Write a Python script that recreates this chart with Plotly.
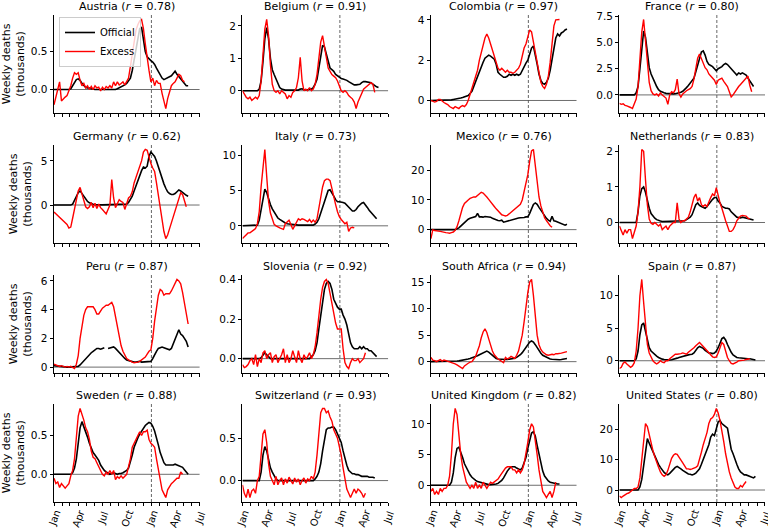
import datetime as dt
import plotly.graph_objects as go

# ---------------- data (weekly, starting 2020-01-01) ----------------
START = dt.date(2020, 1, 1)

countries = ["Austria", "Belgium", "Colombia", "France",
             "Germany", "Italy", "Mexico", "Netherlands",
             "Peru", "Slovenia", "South Africa", "Spain",
             "Sweden", "Switzerland", "United Kingdom", "United States"]
r_values = ["0.78", "0.91", "0.97", "0.80",
            "0.62", "0.73", "0.76", "0.83",
            "0.87", "0.92", "0.94", "0.87",
            "0.88", "0.93", "0.82", "0.80"]
month_labels = ["Jan", "", "", "Apr", "", "", "Jul", "", "", "Oct", "", "",
                "Jan", "", "", "Apr", "", "", "Jul"]
ytick_step = [0.5, 1, 2, 2.5, 5, 5, 10, 1, 2, 0.2, 5, 5, 0.5, 0.5, 5, 10]
ytick_fmt = [".1f", ".0f", ".0f", ".1f", ".0f", ".0f", ".0f", ".0f",
             ".0f", ".1f", ".0f", ".0f", ".1f", ".1f", ".0f", ".0f"]

austria_official = [0]*9 + [0.01, 0.05, 0.1, 0.13, 0.14, 0.12, 0.08, 0.05, 0.03, 0.02, 0.02, 0.01] + [0]*13 + [
    0.01, 0.02, 0.03, 0.04, 0.06, 0.08, 0.12, 0.15, 0.25, 0.4, 0.55, 0.7, 0.8, 0.82, 0.65, 0.5, 0.43, 0.4,
    0.38, 0.36, 0.33, 0.28, 0.23, 0.18, 0.15, 0.13, 0.14, 0.15, 0.16, 0.18, 0.21, 0.24, 0.2, 0.17, 0.14,
    0.1, 0.07, 0.05, 0.05]
austria_excess = [-0.2, -0.1, 0.0, 0.1, -0.15, -0.12, -0.1, -0.08, -0.02, 0.05, 0.15, 0.22, 0.2, 0.22, 0.12,
    0.05, 0.08, 0.02, 0.05, 0.0, 0.04, 0.0, 0.05, 0.02, 0.03, -0.02, 0.03, 0.0, 0.04, 0.02, 0.05, 0.02, 0.1,
    0.05, 0.1, 0.06, 0.08, 0.1, 0.06, 0.1, 0.15, 0.3, 0.45, 0.6, 0.78, 0.85, 0.9, 0.92, 0.8, 0.6, 0.4, 0.25,
    0.1, 0.15, 0.05, 0.12, 0.08, 0.08, -0.05, -0.15, -0.25, -0.12, -0.02, 0.05, 0.08, 0.1, 0.15, 0.2, 0.18,
    0.12, 0.1]

belgium_official = [0]*9 + [0.05, 0.3, 0.9, 1.6, 1.95, 1.6, 1.0, 0.65, 0.5, 0.35, 0.2, 0.1, 0.05, 0.03] + [0.02]*8 + [
    0.05, 0.06, 0.03, 0.02, 0.03, 0.05, 0.05, 0.1, 0.2, 0.35, 0.7, 1.1, 1.4, 1.35, 1.1, 0.85, 0.7, 0.65, 0.6,
    0.5, 0.45, 0.4, 0.38, 0.36, 0.35, 0.32, 0.28, 0.25, 0.22, 0.18, 0.18, 0.18, 0.2, 0.25, 0.28, 0.28, 0.27,
    0.26, 0.25, 0.2, 0.15, 0.12, 0.1]
belgium_excess = [0.0, -0.1, -0.2, -0.25, -0.2, -0.3, -0.25, -0.2, -0.25, -0.15, 0.3, 1.2, 1.9, 2.2, 1.7, 0.8,
    0.2, 0.0, -0.05, 0.0, -0.1, 0.0, -0.05, -0.1, -0.25, -0.15, -0.2, -0.05, 0.0, 0.1, 0.4, 1.03, 0.3, 0.0,
    0.05, 0.0, 0.1, 0.0, 0.05, 0.2, 0.5, 1.0, 1.5, 1.7, 1.4, 1.0, 0.7, 0.6, 0.5, 0.45, 0.4, 0.3, 0.15, 0.0,
    -0.05, 0.0, -0.05, -0.15, -0.2, -0.25, -0.35, -0.55, -0.35, -0.2, -0.05, 0.05, 0.1, 0.15, 0.2, 0.25, 0.2,
    -0.05]

colombia_official = [0]*9 + [0.01, 0.02, 0.03, 0.05, 0.06, 0.08, 0.1, 0.12, 0.15, 0.18, 0.2, 0.25, 0.35, 0.45,
    0.7, 0.95, 1.2, 1.5, 1.7, 1.9, 2.1, 2.2, 2.25, 2.2, 2.1, 2.05, 1.8, 1.4, 1.3, 1.2, 1.15, 1.15, 1.2, 1.3,
    1.25, 1.3, 1.25, 1.3, 1.25, 1.3, 1.5, 1.7, 1.85, 2.0, 2.3, 2.6, 2.7, 2.3, 1.8, 1.3, 1.0, 0.85, 0.8, 0.9,
    1.1, 1.5, 2.0, 2.6, 3.1, 3.3, 3.2, 3.35, 3.4, 3.5, 3.55]
colombia_excess = [0.0, -0.05, -0.08, -0.05, 0.05, 0.05, -0.05, -0.1, -0.15, -0.2, -0.3, -0.35, -0.4, -0.3,
    -0.35, -0.4, -0.3, -0.25, -0.3, -0.2, 0.0, 0.3, 0.6, 1.0, 1.3, 1.5, 2.0, 2.4, 2.8, 3.1, 3.3, 3.1, 2.8, 2.5,
    2.1, 1.8, 1.6, 1.5, 1.6, 1.5, 1.4, 1.5, 1.4, 1.4, 1.35, 1.4, 1.5, 1.6, 1.8, 2.2, 2.6, 2.8, 3.1, 3.5, 3.4,
    2.9, 2.3, 1.7, 1.2, 0.9, 0.7, 0.6, 0.8, 1.2, 1.9, 2.8, 3.7, 4.0, 4.0, 4.02]

france_official = [0]*9 + [0.2, 0.8, 2.5, 4.5, 6.1, 5.5, 3.8, 2.6, 2.0, 1.5, 1.2, 0.8, 0.5, 0.35, 0.25, 0.2,
    0.15, 0.12, 0.1, 0.1, 0.1, 0.12, 0.15, 0.2, 0.25, 0.35, 0.5, 0.7, 0.9, 1.1, 1.3, 1.6, 2.2, 2.9, 3.6, 4.1,
    4.2, 3.8, 3.2, 2.9, 2.8, 2.7, 2.5, 2.3, 2.5, 2.6, 2.7, 2.9, 3.0, 2.9, 2.7, 2.5, 2.2, 2.0, 1.9, 2.1, 2.0,
    2.1, 2.0, 1.9, 1.6, 1.3, 1.0, 0.8]
france_excess = [-0.8, -0.9, -0.85, -1.0, -1.05, -1.1, -1.2, -1.3, -0.9, -0.4, 0.8, 3.5, 6.0, 7.2, 5.0, 2.8,
    1.2, 0.4, 0.1, 0.0, 0.1, -0.1, 0.2, 0.0, -0.2, -0.3, -0.9, 0.0, 0.3, 0.2, 0.5, 1.5, 0.1, -0.2, 0.1, 0.3,
    0.4, 0.5, 0.6, 0.8, 1.5, 2.5, 3.5, 3.9, 3.4, 3.0, 2.6, 2.4, 2.0, 1.8, 1.6, 1.4, 1.0, 1.4, 1.5, 1.6, 1.3,
    1.1, 0.8, 0.3, -0.2, 0.0, 0.3, 0.6, 0.8, 1.0, 1.2, 1.5, 1.6, 1.8, 0.9, 0.3]

germany_official = [0]*10 + [0.1, 0.5, 1.0, 1.4, 1.6, 1.3, 1.0, 0.7, 0.4, 0.25, 0.15, 0.08, 0.05] + [0.02]*16 + [
    0.1, 0.3, 0.6, 1.0, 1.6, 2.2, 2.8, 3.3, 3.9, 4.3, 4.2, 4.4, 5.5, 6.0, 5.8, 5.5, 5.0, 4.3, 3.6, 3.0, 2.4,
    1.9, 1.5, 1.3, 1.2, 1.2, 1.3, 1.5, 1.7, 1.6, 1.4, 1.3, 1.1, 1.0]
germany_excess = [-0.8, -1.0, -1.1, -1.4, -1.5, -1.7, -1.9, -2.2, -2.6, -2.5, -1.5, -0.5, 0.8, 1.6, 2.0, 1.2,
    0.3, -0.2, -0.4, -0.2, 0.3, -0.3, 0.2, -0.4, 0.1, -0.3, -0.5, -0.8, -1.0, -0.5, 0.0, 2.9, 0.8, -0.3, 0.2,
    0.6, 0.4, 0.3, -0.5, 0.3, 0.8, 1.0, 1.5, 2.5, 3.2, 3.8, 4.5, 5.0, 6.0, 6.3, 6.2, 5.3, 4.7, 4.2, 3.8, 2.5,
    1.0, -0.5, -1.8, -3.0, -3.8, -3.4, -2.7, -2.0, -1.3, -0.6, 0.2, 0.8, 1.4, 1.2, 0.5, -0.2]

italy_official = [0]*8 + [0.1, 0.8, 2.3, 4.2, 5.2, 4.7, 3.8, 3.0, 2.4, 1.9, 1.5, 1.1, 0.9, 0.7, 0.5, 0.4, 0.3,
    0.25, 0.2, 0.15] + [0.1]*11 + [0.25, 0.5, 1.0, 1.8, 2.7, 3.6, 4.4, 5.0, 5.1, 4.7, 4.2, 3.7, 3.4, 3.4, 3.4,
    3.3, 3.2, 2.9, 2.6, 2.3, 2.1, 2.1, 2.3, 2.7, 3.0, 3.2, 3.3, 3.0, 2.6, 2.2, 1.9, 1.6, 1.3, 1.0]
italy_excess = [-1.8, -1.5, -1.2, -1.0, -1.0, -0.8, -0.6, -0.4, 0.3, 2.0, 5.5, 8.0, 10.8, 7.0, 3.5, 1.8, 0.8,
    0.2, 0.0, -0.2, -0.3, -0.4, -0.5, 0.3, 0.5, 0.8, 0.2, -0.5, 0.0, 0.5, 1.0, 0.8, 1.0, 0.9, 0.8, 0.6, 0.9,
    0.5, 0.8, 0.5, 1.0, 2.5, 4.2, 5.5, 6.4, 6.6, 6.6, 6.4, 5.3, 4.0, 3.0, 2.0, 1.3, 0.9, 0.6, 0.3, 0.5, -0.8,
    -0.3, -0.2, -0.3]

mexico_official = [0]*14 + [0.3, 0.6, 1.2, 1.8, 2.4, 3.0, 3.5, 3.8, 4.0, 4.2, 4.4, 5.5, 4.3, 4.3, 4.2, 4.4,
    4.3, 4.4, 4.2, 3.8, 3.5, 3.3, 3.1, 3.0, 3.2, 2.5, 2.7, 2.8, 3.0, 3.1, 3.4, 3.6, 3.8, 3.9, 4.0, 4.0, 4.1,
    4.3, 4.3, 5.5, 7.0, 8.5, 9.0, 8.5, 7.5, 6.5, 5.5, 4.5, 3.8, 3.2, 2.8, 4.5, 3.0, 2.8, 2.5, 2.2, 2.0, 1.7,
    1.5, 1.8]
mexico_excess = [-3.0, 0.0, -0.3, -0.5, -0.5, -0.6, -0.8, -1.0, -1.0, -1.1, -1.2, -1.0, -0.8, -0.2, 1.0, 3.0,
    5.5, 7.5, 8.8, 9.5, 10.0, 10.5, 10.8, 11.0, 11.0, 11.5, 12.2, 12.6, 12.3, 11.8, 11.0, 10.2, 9.5, 8.6, 7.8,
    7.0, 6.3, 5.6, 5.0, 4.8, 4.6, 4.8, 5.3, 6.0, 6.5, 7.0, 7.3, 7.8, 8.5, 10.0, 12.5, 15.5, 18.5, 23.0, 26.5,
    27.0, 21.0, 15.0, 11.0, 8.0, 6.0, 4.0, 3.0, 2.0, 1.3, 0.8]

netherlands_official = [0]*10 + [0.3, 0.75, 0.95, 1.0, 0.85, 0.6, 0.4, 0.25, 0.18, 0.12, 0.08, 0.05, 0.04] + \
    [0.03]*12 + [0.05, 0.08, 0.12, 0.15, 0.22, 0.35, 0.5, 0.55, 0.48, 0.45, 0.42, 0.4, 0.45, 0.52, 0.6, 0.65,
    0.7, 0.7, 0.6, 0.55, 0.45, 0.42, 0.4, 0.4, 0.38, 0.3, 0.25, 0.18, 0.15, 0.14, 0.13, 0.15, 0.14, 0.12, 0.1,
    0.09, 0.08, 0.07]
netherlands_excess = [-0.1, -0.25, -0.35, -0.2, -0.3, -0.2, -0.2, -0.45, -0.3, -0.1, 0.3, 1.0, 2.05, 2.0, 1.2,
    0.5, 0.1, -0.02, -0.05, 0.0, -0.05, -0.1, -0.05, -0.2, -0.15, -0.1, -0.2, -0.1, -0.05, 0.0, 0.0, 0.55,
    0.1, 0.0, 0.05, 0.05, 0.1, 0.15, 0.3, 0.5, 0.7, 0.8, 0.6, 0.7, 0.5, 0.45, 0.5, 0.45, 0.6, 0.7, 0.8, 0.75,
    0.98, 0.75, 0.55, 0.4, 0.2, 0.05, -0.1, -0.25, -0.25, -0.2, -0.1, 0.05, 0.12, 0.18, 0.2, 0.2, 0.18, 0.12,
    0.1]

peru_official = [0.1, 0.08, 0.05, 0.03, 0.02, 0, 0, 0, 0, 0, 0, 0, 0, 0.05, 0.15, 0.3, 0.45, 0.6, 0.75, 0.9,
    1.0, 1.1, 1.2, 1.3, 1.3, 1.25, 1.3, 1.35, None, 1.3, 1.35, 1.4, 1.4, 1.3, 1.15, 1.0, 0.85, 0.7, 0.6, 0.5,
    0.45, 0.4, 0.35, 0.35, 0.35, 0.4, 0.4, 0.35, 0.35, 0.4, 0.4, 0.35, 0.4, 0.6, 0.9, 1.1, 1.3, 1.35, 1.4,
    1.35, 1.3, 1.2, 1.2, 1.3, 1.6, 1.9, 2.2, 2.6, 2.3, 2.2, 2.0, 1.8, 1.4]
peru_excess = [0.2, 0.15, 0.1, 0.05, 0.1, 0.05, 0.0, 0.05, 0.0, 0.05, 0.0, -0.1, 0.2, 0.8, 2.0, 3.0, 3.6, 4.0,
    4.2, 4.2, 4.2, 4.2, 4.0, 3.7, 3.7, 3.9, 4.1, 4.2, 4.3, 4.3, 4.4, 4.5, 4.2, 3.5, 2.7, 2.0, 1.5, 1.1, 0.8,
    0.6, 0.5, 0.4, 0.35, 0.3, 0.3, 0.35, 0.4, 0.5, 0.55, 0.7, 0.9, 1.1, 1.2, 2.0, 3.2, 4.3, 5.0, 5.4, 5.3, 5.0,
    5.1, 5.1, 5.1, 5.3, 5.6, 5.9, 6.1, 6.0, 5.8, 5.2, 4.5, 3.7, 3.0]

slovenia_official = [0]*10 + [0.005, 0.02, 0.03, 0.02, 0.01] + [0]*22 + [0.01, 0.02, 0.04, 0.08, 0.15, 0.22,
    0.3, 0.35, 0.38, 0.39, 0.38, 0.35, 0.3, 0.28, 0.26, 0.25, 0.25, 0.22, 0.2, 0.17, 0.12, 0.08, 0.06, 0.05,
    0.05, 0.05, 0.06, 0.05, 0.06, 0.05, 0.05, 0.04, 0.04, 0.03, 0.02, 0.01]
slovenia_excess = [-0.03, -0.045, -0.04, -0.03, -0.01, 0.0, -0.03, 0.02, -0.04, 0.0, -0.02, 0.03, 0.04, 0.0,
    0.02, 0.03, -0.02, 0.01, 0.02, -0.02, 0.0, 0.02, 0.05, -0.02, 0.02, -0.02, 0.0, 0.04, 0.01, -0.02, 0.04,
    0.0, -0.02, 0.02, 0.0, 0.01, 0.03, 0.0, 0.02, 0.06, 0.13, 0.22, 0.3, 0.36, 0.39, 0.4, 0.38, 0.33, 0.28,
    0.22, 0.18, 0.15, 0.15, 0.15, 0.05, -0.02, -0.04, -0.05, -0.02, 0.0, -0.01, -0.01, 0.0, -0.02, -0.01, 0.0,
    0.03]

south_africa_official = [0]*11 + [0.05, 0.08, 0.1, 0.12, 0.15, 0.2, 0.25, 0.3, 0.4, 0.5, 0.6, 0.7, 0.8, 0.9,
    1.1, 1.3, 1.5, 1.6, 1.8, 2.0, 1.8, 1.5, 1.1, 0.8, 0.6, 0.5, 0.45, 0.4, 0.4, 0.4, 0.4, 0.45, 0.5, 0.55,
    0.65, 0.8, 1.0, 1.3, 1.7, 2.2, 2.7, 3.2, 3.7, 3.9, 3.7, 3.2, 2.6, 2.0, 1.6, 1.2, 1.0, 0.8, 0.6, 0.5, 0.45,
    0.4, 0.4, 0.35, 0.35, 0.4, 0.5, 0.55, 0.6]
south_africa_excess = [0.8, 0.3, 0.2, 0.0, 0.2, 0.4, 0.1, 0.3, 0.2, 0.1, 0.0, -0.1, -0.2, -0.4, -0.6, -0.8,
    -1.0, -1.3, -0.8, -0.5, -0.3, -0.1, 0.0, 0.5, 1.0, 2.0, 3.0, 4.5, 5.6, 6.2, 5.5, 4.3, 3.0, 2.0, 1.3, 0.8,
    0.5, 0.3, 0.0, -0.2, 0.8, 0.5, 0.7, 1.0, 0.8, 0.6, 1.2, 2.0, 3.5, 5.0, 7.5, 10.5, 13.0, 15.0, 15.5, 12.5,
    8.0, 5.0, 3.2, 2.3, 1.8, 1.5, 1.3, 1.2, 1.3, 1.4, 1.3, 1.5, 1.5, 1.5, 1.6, 1.7, 1.8, 1.9]

spain_official = [0]*9 + [0.3, 1.5, 4.0, 5.5, 5.8, 4.5, 3.0, 2.0, 1.5, 1.2, 0.9, 0.7, 0.5, 0.35, 0.25, 0.2,
    0.15, 0.1, 0.12, 0.15, 0.2, 0.3, 0.4, 0.5, 0.6, 0.7, 0.8, 0.85, 0.9, 0.95, 1.0, 1.2, 1.6, 2.0, 2.2, 2.1,
    1.9, 1.6, 1.4, 1.2, 1.2, 1.1, 1.2, 1.5, 2.0, 2.7, 3.4, 3.6, 3.2, 2.5, 1.8, 1.3, 0.9, 0.7, 0.5, 0.45, 0.4,
    0.4, 0.4, 0.35, 0.3, 0.3, 0.2, 0.15, 0.1]
spain_excess = [-1.2, -1.0, -0.4, -0.2, -0.5, -0.8, -1.0, -0.8, -0.3, 1.5, 5.0, 10.0, 12.5, 9.0, 5.0, 2.5,
    1.2, 0.5, 0.0, -0.3, -0.5, -0.3, 0.0, -0.2, -0.3, 0.0, 0.0, 0.3, 0.5, 0.8, 1.0, 1.0, 1.0, 1.1, 1.2, 1.1,
    1.0, 1.3, 1.5, 1.8, 2.0, 2.3, 2.6, 2.8, 2.5, 2.2, 1.8, 1.5, 1.2, 0.9, 0.6, 0.5, 0.6, 1.2, 2.0, 2.8, 2.5,
    1.5, 0.5, 0.0, -0.4, -0.5, -0.4, -0.2, 0.0, 0.0, 0.1, 0.1, 0.2, 0.3, 0.3]

sweden_official = [0]*10 + [0.02, 0.08, 0.2, 0.4, 0.6, 0.68, 0.62, 0.55, 0.48, 0.4, 0.33, 0.28, 0.25, 0.22,
    0.18, 0.12, 0.08, 0.05, 0.03, 0.02, 0.0, 0.01, 0.02, 0.01, 0.0, 0.01, 0.01, 0.02, 0.03, 0.05, 0.08, 0.15,
    0.25, 0.35, 0.42, 0.47, 0.52, 0.56, 0.6, 0.63, 0.65, 0.67, 0.66, 0.62, 0.56, 0.48, 0.38, 0.28, 0.2, 0.15,
    0.12, 0.12, 0.12, 0.12, 0.12, 0.13, 0.12, 0.11, 0.1, 0.09, 0.06, 0.03, 0.0]
sweden_excess = [-0.05, -0.12, -0.1, -0.17, -0.12, -0.15, -0.18, -0.15, -0.12, -0.02, 0.05, 0.2, 0.5, 0.75,
    0.85, 0.78, 0.7, 0.6, 0.55, 0.45, 0.3, 0.22, 0.2, 0.15, 0.1, 0.05, 0.0, -0.02, 0.03, 0.0, 0.05, 0.0, 0.05,
    -0.07, -0.03, -0.05, -0.02, -0.05, -0.02, 0.0, 0.1, 0.2, 0.35, 0.4, 0.45, 0.5, 0.55, 0.5, 0.55, 0.55,
    0.57, 0.45, 0.4, 0.38, 0.35, 0.2, 0.05, -0.1, -0.2, -0.25, -0.3, -0.2, -0.15, -0.12, -0.1, -0.08, -0.05,
    -0.05, 0.03, 0.0]

switzerland_official = [0]*10 + [0.1, 0.3, 0.4, 0.35, 0.25, 0.15, 0.1, 0.05, 0.02] + [0]*20 + [0.02, 0.05,
    0.1, 0.2, 0.35, 0.5, 0.6, 0.62, 0.62, 0.63, 0.63, 0.6, 0.55, 0.5, 0.45, 0.35, 0.25, 0.18, 0.12, 0.1, 0.08,
    0.08, 0.07, 0.07, 0.06, 0.05, 0.05, 0.05, 0.05, 0.04, 0.04, 0.04, 0.03]
switzerland_excess = [-0.05, -0.15, -0.2, -0.1, -0.2, -0.12, -0.1, -0.15, 0.0, 0.05, 0.3, 0.55, 0.6, 0.45, 0.2,
    0.05, 0.0, -0.05, 0.05, -0.05, 0.0, 0.03, -0.05, 0.02, -0.03, 0.04, 0.0, -0.04, 0.03, -0.02, 0.02, -0.05,
    0.0, 0.03, -0.03, 0.02, 0.0, 0.05, 0.02, 0.1, 0.3, 0.6, 0.8, 0.85, 0.85, 0.8, 0.82, 0.75, 0.7, 0.6, 0.55,
    0.5, 0.4, 0.3, 0.15, 0.0, -0.1, -0.15, -0.2, -0.15, -0.1, -0.15, -0.1, -0.12, -0.15, -0.2, -0.15]

uk_official = [0]*11 + [0.5, 2.0, 4.5, 6.0, 6.2, 5.5, 4.5, 3.5, 2.8, 2.2, 1.7, 1.3, 1.0, 0.8, 0.6, 0.5, 0.4,
    0.3, 0.2, 0.15, 0.1, 0.1, 0.1, 0.15, 0.2, 0.3, 0.5, 0.8, 1.2, 1.8, 2.3, 2.7, 3.0, 3.0, 3.0, 2.8, 2.6, 2.5,
    2.8, 3.5, 4.5, 6.0, 7.5, 8.5, 8.7, 8.0, 6.5, 5.0, 3.5, 2.3, 1.5, 1.0, 0.7, 0.5, 0.4, 0.3, 0.3, 0.2, 0.2]
uk_excess = [-1.0, -0.5, -1.5, -1.0, -1.5, -0.5, -1.0, -0.5, -0.5, 0.0, 1.5, 5.0, 10.0, 12.5, 11.5, 8.0, 5.0,
    3.0, 1.5, 0.5, 0.0, -0.5, 0.0, -0.5, 0.5, -0.5, 0.0, -0.5, 0.5, 0.0, -0.5, 0.0, 0.5, 0.3, 0.5, 0.8, 1.0,
    1.5, 2.0, 2.5, 2.8, 3.0, 3.0, 3.0, 2.5, 2.5, 2.0, 2.5, 2.0, 2.5, 3.5, 5.0, 7.0, 9.0, 10.0, 9.5, 7.5, 5.0,
    2.5, 0.5, -1.0, -1.5, -2.0, -1.5, -1.0, -2.0, -1.0, 0.5]

us_official = [0]*11 + [1.0, 3.5, 8.0, 13.0, 17.0, 15.5, 14.0, 12.5, 11.0, 9.5, 8.5, 7.5, 6.5, 5.8, 5.3, 5.0,
    5.5, 6.3, 7.0, 7.5, 7.8, 7.5, 7.0, 6.5, 6.0, 5.6, 5.3, 5.2, 5.0, 5.2, 5.6, 6.3, 7.0, 8.5, 10.0, 11.5, 13.0,
    15.0, 17.5, 18.5, 18.0, 20.0, 22.5, 23.0, 22.0, 21.5, 21.0, 20.5, 17.0, 13.5, 12.0, 10.0, 8.5, 7.0, 6.0,
    5.5, 5.0, 5.0, 4.8, 4.5, 4.2, 4.0, 4.5]
us_excess = [-2.0, -2.5, -2.0, -1.5, -1.2, -1.0, -0.5, 0.0, 0.5, 0.5, 1.0, 4.0, 10.0, 18.0, 22.0, 21.0, 18.0,
    15.0, 13.0, 11.0, 9.0, 7.5, 6.0, 5.0, 4.5, 5.0, 6.5, 8.5, 10.5, 11.5, 12.0, 11.8, 11.0, 10.0, 9.0, 8.0,
    7.0, 7.0, 6.8, 7.0, 7.2, 7.5, 8.0, 10.0, 12.5, 15.0, 17.0, 19.0, 22.0, 23.5, 24.0, 25.0, 27.0, 25.5, 23.0,
    20.0, 16.0, 12.0, 8.5, 6.0, 4.0, 2.5, 1.0, 0.5, 0.5, 1.5, 1.0, 2.0, 2.8]

official_series = [austria_official, belgium_official, colombia_official, france_official,
                   germany_official, italy_official, mexico_official, netherlands_official,
                   peru_official, slovenia_official, south_africa_official, spain_official,
                   sweden_official, switzerland_official, uk_official, us_official]
excess_series = [austria_excess, belgium_excess, colombia_excess, france_excess,
                 germany_excess, italy_excess, mexico_excess, netherlands_excess,
                 peru_excess, slovenia_excess, south_africa_excess, spain_excess,
                 sweden_excess, switzerland_excess, uk_excess, us_excess]

# ---------------- layout ----------------
W, H = 768, 531
ML, MR, MT, MB = 52, 3, 15, 29
PW, PH = W - ML - MR, H - MT - MB
col_left = [52, 241, 430, 619]
col_w = 146
row_top = [15, 145, 275, 404]
row_h = 98
XLABEL_CENTER_PX = 518   # vertical centre of rotated month labels

FONT = "DejaVu Sans, Arial, sans-serif"


def week_dates(n):
    return [START + dt.timedelta(weeks=i) for i in range(n)]


month_ticks = []
for k in range(19):
    y = 2020 + k // 12
    m = k % 12 + 1
    month_ticks.append(dt.date(y, m, 1))

fig = go.Figure()
annotations = []
shapes = []

for idx, name in enumerate(countries):
    r, c = divmod(idx, 4)
    n = idx + 1
    xa = "x" if n == 1 else f"x{n}"
    ya = "y" if n == 1 else f"y{n}"
    xkey = "xaxis" if n == 1 else f"xaxis{n}"
    ykey = "yaxis" if n == 1 else f"yaxis{n}"

    off = official_series[idx]
    exc = excess_series[idx]
    fig.add_trace(go.Scatter(x=week_dates(len(off)), y=off, mode="lines",
                             line=dict(color="black", width=1.6), name="Official",
                             showlegend=(idx == 0), xaxis=xa, yaxis=ya, connectgaps=False))
    fig.add_trace(go.Scatter(x=week_dates(len(exc)), y=exc, mode="lines",
                             line=dict(color="#ff0000", width=1.4), name="Excess",
                             showlegend=(idx == 0), xaxis=xa, yaxis=ya))

    vals = [v for v in off + exc if v is not None]
    lo, hi = min(vals), max(vals)
    pad = 0.05 * (hi - lo)

    x0 = (col_left[c] - ML) / PW
    x1 = (col_left[c] + col_w - ML) / PW
    ytop = (H - MB - row_top[r]) / PH
    ybot = (H - MB - row_top[r] - row_h) / PH

    fig.layout[xkey] = dict(
        domain=[x0, x1], anchor=ya, type="date",
        range=[dt.date(2020, 1, 1), dt.date(2021, 7, 1)],
        tickmode="array", tickvals=month_ticks, ticktext=[""] * len(month_ticks),
        ticks="outside", ticklen=3.5, tickwidth=0.8, tickcolor="black",
        showline=True, linecolor="black", linewidth=0.8, showgrid=False, zeroline=False)
    fig.layout[ykey] = dict(
        domain=[ybot, ytop], anchor=xa, range=[lo - pad, hi + pad],
        dtick=ytick_step[idx], tick0=0, tickformat=ytick_fmt[idx],
        ticks="outside", ticklen=3.5, tickwidth=0.8, tickcolor="black",
        showline=True, linecolor="black", linewidth=0.8, showgrid=False, zeroline=False,
        tickfont=dict(size=10.5, color="black", family=FONT))
    if c == 0:
        fig.layout[ykey]["title"] = dict(text="Weekly deaths<br>(thousands)",
                                         font=dict(size=11, color="black", family=FONT),
                                         standoff=6)

    # rotated month labels under the bottom row
    if r == 3:
        for tv, tl in zip(month_ticks, month_labels):
            if tl:
                annotations.append(dict(text=tl, x=tv, xref=xa, yref="paper",
                                        y=(H - MB - XLABEL_CENTER_PX) / PH,
                                        xanchor="center", yanchor="middle", textangle=-70,
                                        showarrow=False,
                                        font=dict(size=10, color="black", family=FONT)))

    shapes.append(dict(type="line", xref=f"{xa} domain", yref=ya, x0=0, x1=1, y0=0, y1=0,
                       line=dict(color="#6e6e6e", width=1), layer="below"))
    shapes.append(dict(type="line", xref=xa, yref=f"{ya} domain", x0=dt.date(2021, 1, 1),
                       x1=dt.date(2021, 1, 1), y0=0, y1=1,
                       line=dict(color="#555555", width=0.9, dash="3px,2px"), layer="below"))
    annotations.append(dict(text=f"{name} (<i>r</i> = {r_values[idx]})", xref="paper", yref="paper",
                            x=(x0 + x1) / 2, y=ytop + 9 / PH, xanchor="center", yanchor="middle",
                            showarrow=False, font=dict(size=11, color="black", family=FONT)))

fig.update_layout(
    width=W, height=H, margin=dict(l=ML, r=MR, t=MT, b=MB),
    paper_bgcolor="white", plot_bgcolor="white",
    font=dict(family=FONT, color="black"),
    shapes=shapes, annotations=annotations,
    legend=dict(x=(57 - ML) / PW, y=(H - MB - 17) / PH, xanchor="left", yanchor="top",
                bordercolor="#cccccc", borderwidth=1, bgcolor="rgba(255,255,255,0.8)",
                font=dict(size=10, color="black", family=FONT),
                itemwidth=30, tracegroupgap=0),
)

fig.write_html("out.html",
               config={"displayModeBar": False},
               post_script="document.body.style.margin='0';document.body.style.padding='0';"
                           "document.body.style.overflow='hidden';")
